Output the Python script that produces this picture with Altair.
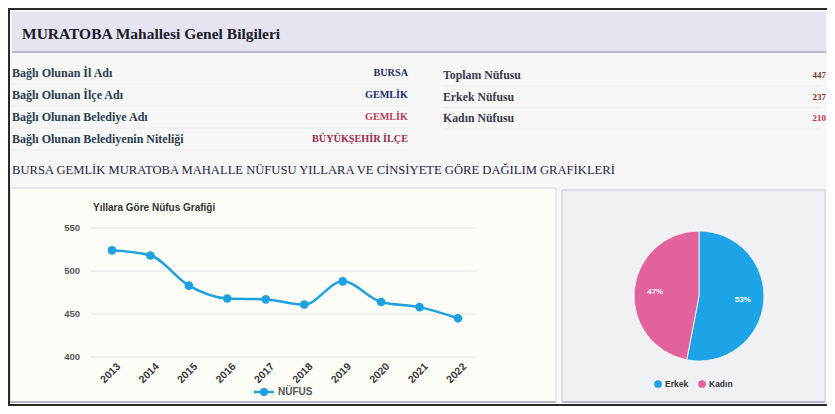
import altair as alt
import pandas as pd

# ---------------- data ----------------
page_title = "MURATOBA Mahallesi Genel Bilgileri"
left_labels = ["Bağlı Olunan İl Adı", "Bağlı Olunan İlçe Adı", "Bağlı Olunan Belediye Adı", "Bağlı Olunan Belediyenin Niteliği"]
left_values = ["BURSA", "GEMLİK", "GEMLİK", "BÜYÜKŞEHİR İLÇE"]
left_value_colors = ["#26305e", "#1b2c6b", "#b8405a", "#9a2c48"]
right_labels = ["Toplam Nüfusu", "Erkek Nüfusu", "Kadın Nüfusu"]
right_values = ["447", "237", "210"]
right_value_colors = ["#7b3a3a", "#8a2a2a", "#c2304a"]
section_title = "BURSA GEMLİK MURATOBA MAHALLE NÜFUSU YILLARA VE CİNSİYETE GÖRE DAĞILIM GRAFİKLERİ"

line_title = "Yıllara Göre Nüfus Grafiği"
series_name = "NÜFUS"
years = ["2013", "2014", "2015", "2016", "2017", "2018", "2019", "2020", "2021", "2022"]
population = [524, 518, 483, 468, 467, 461, 488, 464, 458, 445]
y_ticks = [400, 450, 500, 550]

sexes = ["Erkek", "Kadın"]
sex_counts = [237, 210]
sex_colors = ["#1da4e6", "#e2629b"]

# ---------------- layout ----------------
W, H = 819, 398
SERIF = "Liberation Serif"
SANS = "Liberation Sans"
BLUE = "#1da1e0"

one = pd.DataFrame({"k": [0]})


def box(x, x2, y, y2, fill, stroke=None, sw=1):
    kw = dict(fill=fill)
    if stroke:
        kw.update(stroke=stroke, strokeWidth=sw)
    return alt.Chart(one).mark_rect(**kw).encode(
        x=alt.value(x), x2=alt.value(x2), y=alt.value(y), y2=alt.value(y2))


def hline(x, x2, y, color, sw=1):
    return alt.Chart(one).mark_rule(color=color, strokeWidth=sw).encode(
        x=alt.value(x), x2=alt.value(x2), y=alt.value(y))


def vline(x, y, y2, color, sw=1):
    return alt.Chart(one).mark_rule(color=color, strokeWidth=sw).encode(
        x=alt.value(x), y=alt.value(y), y2=alt.value(y2))


def label(text, x, y, size, color, font=SERIF, weight="bold", align="left"):
    return alt.Chart(pd.DataFrame({"t": [text]})).mark_text(
        font=font, fontSize=size, fontWeight=weight, color=color,
        align=align, baseline="middle").encode(
        x=alt.value(x), y=alt.value(y), text="t:N")


layers = []
# frame + panels
layers.append(box(0, W, 0, H, "#f7f7f8"))
layers.append(box(4, W - 1, 4, 44, "#e6e4f0"))
layers.append(hline(4, W - 1, 44, "#b9b7cf", 2))
layers.append(box(2, 548, 180, 394, "#fdfdf8", "#d4d4de"))
layers.append(box(554, W - 2, 182, 394, "#f0f1f4", "#c8c8d6"))
layers.append(hline(2, 548, 394, "#b8b8c8", 2))
layers.append(hline(554, W - 2, 394, "#b8b8c8", 2))

# header texts
layers.append(label(page_title, 14, 26, 15.5, "#1a1a2a"))
for i, (lab, val, col) in enumerate(zip(left_labels, left_values, left_value_colors)):
    y = 65 + i * 22
    layers.append(label(lab, 4, y, 12, "#2b3d4f"))
    layers.append(label(val, 400, y, 10.2, col, align="right"))
    layers.append(hline(4, 400, y + 11, "#efeff2"))
for i, (lab, val, col) in enumerate(zip(right_labels, right_values, right_value_colors)):
    y = 67 + i * 21.5
    layers.append(label(lab, 435, y, 11.8, "#3a3a4a"))
    layers.append(label(val, 818, y, 9, col, align="right"))
    layers.append(hline(435, 812, y + 11, "#efeff2"))
layers.append(label(section_title, 4, 162, 12.6, "#1e1e3e", weight="normal"))

# line chart
x_scale = alt.Scale(type="point", domain=years, range=[104, 450], padding=0)
y_scale = alt.Scale(domain=[400, 550], range=[349, 220], nice=False, zero=False)

line_df = pd.DataFrame({"year": years, "value": population})
tick_df = pd.DataFrame({"tick": y_ticks})

layers.append(alt.Chart(tick_df).mark_rule(color="#e4e4e4", strokeWidth=1).encode(
    x=alt.value(82), x2=alt.value(469),
    y=alt.Y("tick:Q", scale=y_scale, axis=None)))
layers.append(alt.Chart(tick_df).mark_text(
    font=SANS, fontSize=9.5, fontWeight="bold", color="#555555", align="right", baseline="middle").encode(
    x=alt.value(72), y=alt.Y("tick:Q", scale=y_scale, axis=None), text="tick:Q"))
layers.append(alt.Chart(line_df).mark_text(
    font=SANS, fontSize=10.5, fontWeight="bold", color="#3a3a3a", align="right",
    baseline="middle", angle=315, xOffset=7).encode(
    x=alt.X("year:O", scale=x_scale, axis=None), y=alt.value(357), text="year:N"))
layers.append(alt.Chart(line_df).mark_line(color=BLUE, strokeWidth=2.5, interpolate="monotone").encode(
    x=alt.X("year:O", scale=x_scale, axis=None),
    y=alt.Y("value:Q", scale=y_scale, axis=None)))
layers.append(alt.Chart(line_df).mark_circle(color=BLUE, size=75, opacity=1).encode(
    x=alt.X("year:O", scale=x_scale, axis=None),
    y=alt.Y("value:Q", scale=y_scale, axis=None)))
layers.append(label(line_title, 85, 200, 10, "#333333", font=SANS))
# line legend
layers.append(hline(246, 266, 384, BLUE, 2.5))
layers.append(alt.Chart(one).mark_circle(color=BLUE, size=70, opacity=1).encode(
    x=alt.value(256), y=alt.value(384)))
layers.append(label(series_name, 270, 384, 10, "#555555", font=SANS))

# pie chart
total = sum(sex_counts)
pie_df = pd.DataFrame({
    "sex": sexes,
    "count": sex_counts,
    "order": list(range(len(sexes))),
    "pct": [f"{round(100 * c / total)}%" for c in sex_counts],
})
color_scale = alt.Scale(domain=sexes, range=sex_colors)
pie_base = alt.Chart(pie_df).encode(
    theta=alt.Theta("count:Q", stack=True),
    order=alt.Order("order:Q"),
    x=alt.value(691), y=alt.value(288),
)
layers.append(pie_base.mark_arc(outerRadius=65, stroke="#ffffff", strokeWidth=0.8).encode(
    color=alt.Color("sex:N", scale=color_scale, legend=None)))
layers.append(pie_base.mark_text(radius=44, font=SANS, fontSize=8, fontWeight="bold", color="#ffffff").encode(
    text="pct:N"))
# pie legend
for i, s in enumerate(sexes):
    cx = 650 + i * 44
    layers.append(alt.Chart(pd.DataFrame({"sex": [s]})).mark_circle(size=60, opacity=1).encode(
        x=alt.value(cx), y=alt.value(376),
        color=alt.Color("sex:N", scale=color_scale, legend=None)))
    layers.append(label(s, cx + 7, 376, 8.5, "#333333", font=SANS))

# frame lines
layers.append(hline(0, W, 1, "#2a2a2a", 2))
layers.append(vline(1, 0, H, "#2a2a2a", 2))
layers.append(hline(0, W, H - 1, "#2a2a2a", 2))

chart = alt.layer(*layers).properties(
    width=W, height=H, autosize=alt.AutoSizeParams(type="none"), padding=0,
).configure_view(stroke=None).configure(background="#f7f7f8")

chart.save("out.html", embed_options={"renderer": "svg", "actions": False})
